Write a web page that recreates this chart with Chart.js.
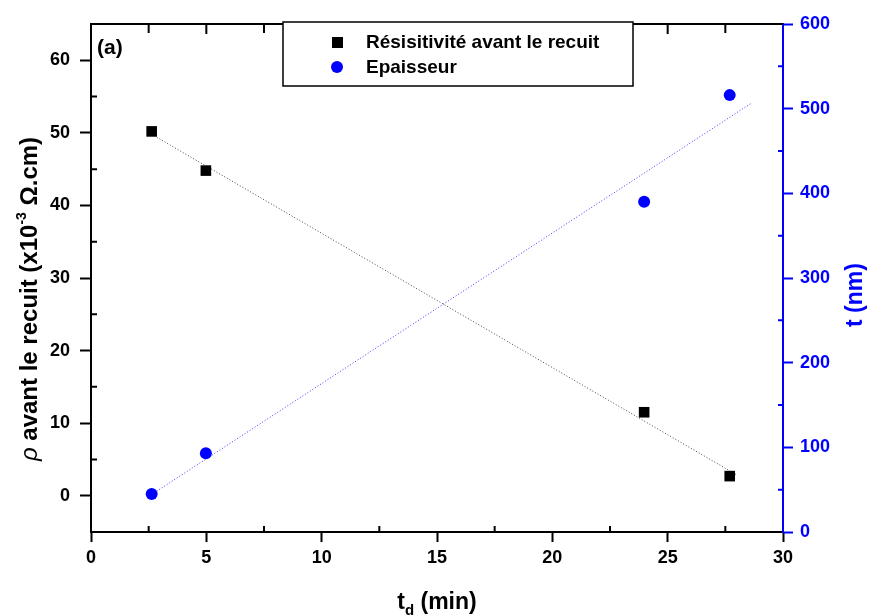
<!DOCTYPE html>
<html>
<head>
<meta charset="utf-8">
<script src="https://cdn.jsdelivr.net/npm/chart.js@4"></script>
<style>
  html, body { margin: 0; padding: 0; background: #fff; }
  #wrap { width: 869px; height: 615px; }
</style>
</head>
<body>
<div id="wrap"><canvas id="chart" width="869" height="615"></canvas></div>
<script>
// deposition time (min)
const tdMin = [2.63, 4.98, 23.98, 27.69];
// resistivity before annealing (x10^-3 ohm.cm)
const rhoValues = [50.2, 44.8, 11.5, 2.7];
// thickness (nm)
const thickValues = [45, 93, 390, 516];

// dotted fit lines, endpoints
const rhoFitX = [2.63, 28.03];
const rhoFitY = [49.8, 2.8];
const thickFitX = [2.63, 28.6];
const thickFitY = [44.3, 506];

const xTicks = [0, 5, 10, 15, 20, 25, 30];
const xMinor = [2.5, 7.5, 12.5, 17.5, 22.5, 27.5];
const leftTicks = [0, 10, 20, 30, 40, 50, 60];
const leftMinor = [5, 15, 25, 35, 45, 55];
const rightTicks = [0, 100, 200, 300, 400, 500, 600];
const rightMinor = [50, 150, 250, 350, 450, 550];

const BLUE = "#0000ff";
const FONT = "'Liberation Sans', Arial, sans-serif";

const pts = (xs, ys) => xs.map((x, i) => ({ x: x, y: ys[i] }));

// minor ticks, top border, legend, axis titles
const decorPlugin = {
    id: "decor",
    afterDraw(chart) {
        const ctx = chart.ctx;
        const a = chart.chartArea;
        const sx = chart.scales.x, sl = chart.scales.yL, sr = chart.scales.yR;
        ctx.save();
        ctx.lineWidth = 2;
        ctx.strokeStyle = "#000";
        // top border
        ctx.beginPath();
        ctx.moveTo(a.left - 1, a.top);
        ctx.lineTo(a.right, a.top);
        ctx.stroke();
        ctx.beginPath();
        xMinor.forEach(v => {
            const p = sx.getPixelForValue(v);
            ctx.moveTo(p, a.bottom); ctx.lineTo(p, a.bottom - 6);
            ctx.moveTo(p, a.top); ctx.lineTo(p, a.top + 9);
        });
        xTicks.forEach(v => {
            const p = sx.getPixelForValue(v);
            if (v > 0 && v < 30) { ctx.moveTo(p, a.top); ctx.lineTo(p, a.top + 10); }
        });
        leftMinor.forEach(v => {
            const p = sl.getPixelForValue(v);
            ctx.moveTo(a.left, p); ctx.lineTo(a.left + 6, p);
        });
        ctx.stroke();
        ctx.strokeStyle = BLUE;
        ctx.beginPath();
        rightMinor.forEach(v => {
            const p = sr.getPixelForValue(v);
            ctx.moveTo(a.right, p); ctx.lineTo(a.right - 5, p);
        });
        ctx.stroke();

        // legend
        ctx.fillStyle = "#fff";
        ctx.fillRect(283, 22, 350, 64);
        ctx.lineWidth = 1.5;
        ctx.strokeStyle = "#000";
        ctx.strokeRect(283, 22, 350, 64);
        ctx.fillStyle = "#000";
        ctx.fillRect(332, 37, 11, 11);
        ctx.fillStyle = BLUE;
        ctx.beginPath(); ctx.arc(337, 67, 6, 0, Math.PI * 2); ctx.fill();
        ctx.fillStyle = "#000";
        ctx.font = "bold 19px " + FONT;
        ctx.textBaseline = "middle";
        ctx.textAlign = "left";
        ctx.fillText("Résisitivité avant le recuit", 366, 43);
        ctx.fillText("Epaisseur", 366, 68);

        // panel label
        ctx.font = "bold 21px " + FONT;
        ctx.fillText("(a)", 97, 48);

        // x title: t_d (min)
        ctx.textBaseline = "alphabetic";
        const big = "bold 23px " + FONT, small = "bold 15px " + FONT;
        ctx.font = big; const wT = ctx.measureText("t").width, wM = ctx.measureText(" (min)").width;
        ctx.font = small; const wD = ctx.measureText("d").width;
        let x0 = (a.left + a.right) / 2 - (wT + wD + wM) / 2;
        ctx.font = big; ctx.fillText("t", x0, 609);
        ctx.font = small; ctx.fillText("d", x0 + wT, 615);
        ctx.font = big; ctx.fillText(" (min)", x0 + wT + wD, 609);

        // left title
        ctx.save();
        ctx.translate(37, 299);
        ctx.rotate(-Math.PI / 2);
        const lbig = "bold 24px " + FONT;
        const parts = [
            { t: "ρ", f: "italic 24px " + FONT, dy: 0 },
            { t: " avant le recuit (x10", f: lbig, dy: 0 },
            { t: "-3", f: "bold 14px " + FONT, dy: -11 },
            { t: " Ω.cm)", f: lbig, dy: 0 }
        ];
        let tot = 0;
        parts.forEach(p => { ctx.font = p.f; p.w = ctx.measureText(p.t).width; tot += p.w; });
        let cx = -tot / 2;
        parts.forEach(p => { ctx.font = p.f; ctx.fillText(p.t, cx, p.dy); cx += p.w; });
        ctx.restore();

        // right title
        ctx.save();
        ctx.translate(862, 295);
        ctx.rotate(-Math.PI / 2);
        ctx.font = big;
        ctx.fillStyle = BLUE;
        ctx.textAlign = "center";
        ctx.fillText("t (nm)", 0, 0);
        ctx.restore();

        ctx.restore();
    }
};

new Chart(document.getElementById("chart"), {
    type: "scatter",
    data: {
        datasets: [
            {
                label: "Résisitivité avant le recuit",
                data: pts(tdMin, rhoValues),
                yAxisID: "yL",
                pointStyle: "rect",
                pointRadius: 7.5,
                backgroundColor: "#000",
                borderColor: "#000",
                borderWidth: 0,
                order: 0
            },
            {
                label: "Epaisseur",
                data: pts(tdMin, thickValues),
                yAxisID: "yR",
                pointStyle: "circle",
                pointRadius: 6,
                backgroundColor: BLUE,
                borderColor: BLUE,
                borderWidth: 0,
                order: 0
            },
            {
                label: "fit rho",
                type: "line",
                data: pts(rhoFitX, rhoFitY),
                yAxisID: "yL",
                showLine: true,
                pointRadius: 0,
                borderColor: "#444",
                borderWidth: 1,
                borderDash: [1, 2],
                fill: false,
                order: 1
            },
            {
                label: "fit t",
                type: "line",
                data: pts(thickFitX, thickFitY),
                yAxisID: "yR",
                showLine: true,
                pointRadius: 0,
                borderColor: "#3a3aff",
                borderWidth: 1,
                borderDash: [1, 2],
                fill: false,
                order: 1
            }
        ]
    },
    options: {
        responsive: false,
        animation: false,
        layout: { padding: { top: 24, left: 0, right: 0, bottom: 0 } },
        plugins: { legend: { display: false }, tooltip: { enabled: false } },
        scales: {
            x: {
                type: "linear",
                position: "bottom",
                min: 0, max: 30,
                afterBuildTicks: s => { s.ticks = xTicks.map(v => ({ value: v })); },
                afterFit: s => { s.height = 83; },
                grid: { display: true, drawOnChartArea: false, drawTicks: true, tickLength: 10, tickWidth: 2, tickColor: "#000" },
                border: { display: true, color: "#000", width: 2 },
                ticks: { color: "#000", font: { family: FONT, size: 18, weight: "bold" }, padding: 5, maxRotation: 0 }
            },
            yL: {
                type: "linear",
                position: "left",
                min: -5, max: 65,
                afterBuildTicks: s => { s.ticks = leftTicks.map(v => ({ value: v })); },
                afterFit: s => { s.width = 91; },
                grid: { display: true, drawOnChartArea: false, drawTicks: true, tickLength: 11, tickWidth: 2, tickColor: "#000" },
                border: { display: true, color: "#000", width: 2 },
                ticks: { color: "#000", font: { family: FONT, size: 18, weight: "bold" }, padding: 10 }
            },
            yR: {
                type: "linear",
                position: "right",
                min: 0, max: 600,
                afterBuildTicks: s => { s.ticks = rightTicks.map(v => ({ value: v })); },
                afterFit: s => { s.width = 86; },
                grid: { display: true, drawOnChartArea: false, drawTicks: true, tickLength: 10, tickWidth: 2, tickColor: BLUE },
                border: { display: true, color: BLUE, width: 2 },
                ticks: { color: BLUE, font: { family: FONT, size: 18, weight: "bold" }, padding: 7 }
            }
        }
    },
    plugins: [decorPlugin]
});
</script>
</body>
</html>
